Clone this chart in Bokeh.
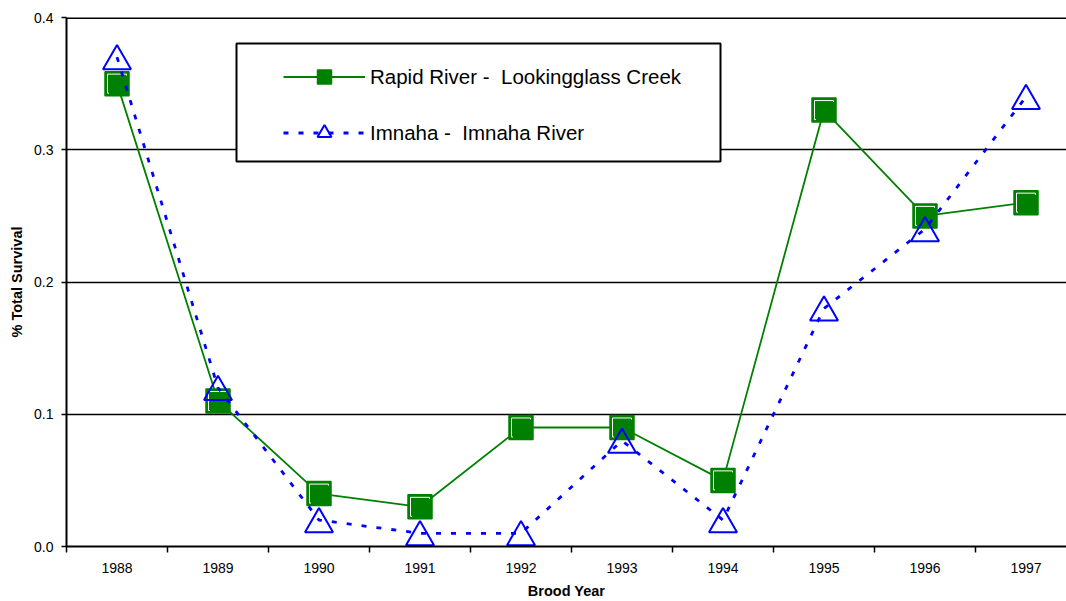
from bokeh.plotting import figure
from bokeh.models import (FixedTicker, NumeralTickFormatter, Range1d, Legend,
                          LegendItem, ColumnDataSource, BoxAnnotation, Span)
from bokeh.transform import dodge
from bokeh.embed import file_html
from bokeh.resources import INLINE
import numpy as np

# ---- data ----
years = ["1988", "1989", "1990", "1991", "1992", "1993", "1994", "1995", "1996", "1997"]
rapid = [0.35, 0.11, 0.04, 0.03, 0.09, 0.09, 0.05, 0.33, 0.25, 0.26]
imnaha = [0.37, 0.12, 0.02, 0.01, 0.01, 0.08, 0.02, 0.18, 0.24, 0.34]
y_ticks = [0.0, 0.1, 0.2, 0.3, 0.4]
series_names = ["Rapid River -  Lookingglass Creek", "Imnaha -  Imnaha River"]

# ---- layout ----
W, H = 1066, 601
B_LEFT, B_TOP, B_BOTTOM, B_RIGHT = 66, 17, 54, 0
frame_w = W - B_LEFT - B_RIGHT
frame_h = H - B_TOP - B_BOTTOM
cat_px = 101.0
x_start = -0.5
x_end = x_start + frame_w / cat_px
y_start, y_end = 0.0, 0.4
px_x = 1.0 / cat_px
px_y = (y_end - y_start) / frame_h

xs = list(np.arange(len(years), dtype=float))
src = ColumnDataSource(dict(x=xs, rapid=rapid, imnaha=imnaha))

GREEN = "#008000"
BLUE = "#0000FF"
FONT = "Liberation Sans"

p = figure(width=W, height=H, output_backend="svg", toolbar_location=None,
           x_range=Range1d(x_start, x_end), y_range=Range1d(y_start, y_end))
p.min_border_left = B_LEFT
p.min_border_right = B_RIGHT
p.min_border_top = B_TOP
p.min_border_bottom = B_BOTTOM
p.outline_line_color = None
p.background_fill_color = "white"
p.border_fill_color = "white"

# x axis
xa = p.xaxis[0]
xa.ticker = FixedTicker(ticks=xs, minor_ticks=[v - 0.5 for v in xs] + [xs[-1] + 0.5])
xa.major_label_overrides = {float(v): y for v, y in zip(xs, years)}
xa.major_tick_line_color = None
xa.major_tick_out = 6
xa.major_tick_in = 0
xa.minor_tick_line_color = "black"
xa.minor_tick_line_width = 1.5
xa.minor_tick_out = 6
xa.minor_tick_in = 0
xa.axis_line_color = "black"
xa.axis_line_width = 2
xa.major_label_text_font = FONT
xa.major_label_text_font_size = "14px"
xa.major_label_text_color = "black"
xa.major_label_standoff = 10
xa.axis_label = "Brood Year"
xa.axis_label_text_font = FONT
xa.axis_label_text_font_style = "bold"
xa.axis_label_text_font_size = "14.5px"
xa.axis_label_text_color = "black"
xa.axis_label_standoff = 7

# y axis
ya = p.yaxis[0]
ya.ticker = FixedTicker(ticks=y_ticks)
ya.formatter = NumeralTickFormatter(format="0.0")
ya.major_tick_out = 5
ya.major_tick_in = 0
ya.major_tick_line_width = 1.5
ya.major_tick_line_color = "black"
ya.minor_tick_line_color = None
ya.axis_line_color = "black"
ya.axis_line_width = 2
ya.major_label_text_font = FONT
ya.major_label_text_font_size = "14px"
ya.major_label_text_color = "black"
ya.major_label_standoff = 8
ya.axis_label = "% Total Survival"
ya.axis_label_text_font = FONT
ya.axis_label_text_font_style = "bold"
ya.axis_label_text_font_size = "14.5px"
ya.axis_label_text_color = "black"
ya.axis_label_standoff = 6

p.xgrid.grid_line_color = None
p.ygrid.ticker = FixedTicker(ticks=y_ticks[1:-1])
p.ygrid.grid_line_color = "black"
p.ygrid.grid_line_width = 1.3
p.add_layout(Span(location=y_ticks[-1], dimension="width",
                  line_color="black", line_width=3))

# Rapid River series
r_line = p.line("x", "rapid", source=src, line_color=GREEN, line_width=1.8)
r_sq = p.scatter("x", "rapid", source=src, marker="square", size=24,
                 fill_color=GREEN, line_color=GREEN, line_width=1.5)
p.scatter("x", "rapid", source=src, marker="square", size=19,
          fill_color=None, line_color="white", line_width=1)
p.scatter(dodge("x", 1.5 * px_x), dodge("rapid", -1.5 * px_y), source=src,
          marker="square", size=19, fill_color=GREEN, line_color=None)

# Imnaha series
i_line = p.line("x", "imnaha", source=src, line_color=BLUE, line_width=2.8,
                line_dash="5 10")
i_tri = p.scatter("x", dodge("imnaha", -4 * px_y), source=src, marker="triangle",
                  size=28, fill_color=None, line_color=BLUE, line_width=2)

# legend frame (screen units relative to plot frame)
box = BoxAnnotation(left=170, right=654, bottom=385, top=503,
                    left_units="screen", right_units="screen",
                    bottom_units="screen", top_units="screen",
                    fill_color="white", fill_alpha=1.0,
                    line_color="black", line_width=2, line_alpha=1.0)
p.add_layout(box)

legend = Legend(items=[
    LegendItem(label=series_names[0], renderers=[r_line, r_sq]),
    LegendItem(label=series_names[1], renderers=[i_line, i_tri]),
], location=(217, 396))
legend.border_line_color = None
legend.background_fill_alpha = 0
legend.label_text_font = FONT
legend.label_text_font_size = "20.5px"
legend.label_text_color = "black"
legend.glyph_width = 82
legend.glyph_height = 35
legend.label_height = 20
legend.label_standoff = 5
legend.spacing = 21
legend.padding = 0
legend.margin = 0
p.add_layout(legend, "center")

open("out.html", "w").write(file_html(p, INLINE))
